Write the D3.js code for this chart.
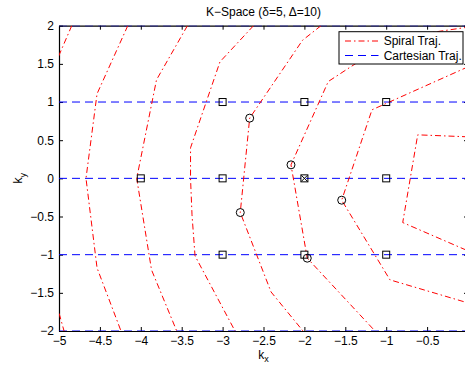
<!DOCTYPE html>
<html>
<head>
<meta charset="utf-8">
<script src="https://cdn.jsdelivr.net/npm/d3@7"></script>
<style>
  html, body { margin: 0; padding: 0; background: #fff; }
  svg { display: block; }
  text { font-family: "Liberation Sans", Arial, Helvetica, sans-serif; }
</style>
</head>
<body>
<svg id="chart" width="465" height="365"></svg>
<script>
// ---- data ----
const xTicks = [-5, -4.5, -4, -3.5, -3, -2.5, -2, -1.5, -1, -0.5];
const yTicks = [-2, -1.5, -1, -0.5, 0, 0.5, 1, 1.5, 2];
const xDomain = [-5, 0];
const yDomain = [-2, 2];

// spiral trajectory arcs (vertices)
const arcA1 = [[-4.844, 2.0], [-5.045, 1.5]];
const arcA2 = [[-5.043, -1.6], [-4.938, -2.0]];
const arcB = [[-4.159, 2.0], [-4.535, 1.107], [-4.670, 0], [-4.535, -1.173], [-4.242, -2.0]];
const arcC = [[-3.430, 2.0], [-3.808, 1.291], [-4.050, 0], [-3.869, -1.199], [-3.561, -2.0]];
const arcD = [[-2.622, 2.0], [-3.032, 1.527], [-3.392, 0.40], [-3.392, 0], [-3.374, -0.478], [-3.337, -1.016], [-2.848, -2.0]];
const arcE = [[-1.797, 2.0], [-2.023, 1.809], [-2.669, 0.789], [-2.784, -0.448], [-2.408, -1.488], [-2.017, -2.0]];
const arcF = [[0.024, 1.985], [-0.892, 1.841], [-1.708, 1.269], [-2.164, 0.177], [-1.965, -1.046], [-1.137, -2.0]];
const arcG = [[0.0, 1.461], [-1.174, 0.898], [-1.544, -0.286], [-0.954, -1.330], [0.0, -1.632]];
const arcH = [[0.0, 0.544], [-0.615, 0.570], [-0.798, -0.579], [0.0, -0.950]];
const spiralArcs = [arcA1, arcA2, arcB, arcC, arcD, arcE, arcF, arcG, arcH];

// cartesian trajectory rows
const cartesianRows = [-2, -1, 0, 1, 2];

// sample markers
const circlePoints = [[-2.669, 0.789], [-2.784, -0.448], [-2.164, 0.177], [-1.544, -0.286], [-1.965, -1.046]];
const squarePoints = [[-4, 0], [-3, 1], [-3, 0], [-3, -1], [-2, 1], [-2, 0], [-2, -1], [-1, 1], [-1, 0], [-1, -1]];
const crossPoints = [[-2, 0]];

const legendLabels = ["Spiral Traj.", "Cartesian Traj."];
const titleText = "K\u2212Space (\u03B4=5, \u0394=10)";

// ---- drawing ----
const svg = d3.select("#chart");
const L = 59, R = 468, T = 25.7, B = 331;
const x = d3.scaleLinear().domain(xDomain).range([L, R]);
const y = d3.scaleLinear().domain(yDomain).range([B, T]);
const fmt = d => (d < 0 ? "\u2212" : "") + Math.abs(d);

svg.append("defs").append("clipPath").attr("id", "clip")
  .append("rect").attr("x", L).attr("y", T).attr("width", R - L).attr("height", B - T);

// axes (box with inward ticks)
const axB = svg.append("g").attr("transform", `translate(0,${B})`)
  .call(d3.axisBottom(x).tickValues(xTicks).tickSizeInner(-4).tickSizeOuter(0).tickPadding(5).tickFormat(fmt));
const axT = svg.append("g").attr("transform", `translate(0,${T})`)
  .call(d3.axisTop(x).tickValues(xTicks).tickSizeInner(-4).tickSizeOuter(0).tickFormat(""));
const axL = svg.append("g").attr("transform", `translate(${L},0)`)
  .call(d3.axisLeft(y).tickValues(yTicks).tickSizeInner(-4).tickSizeOuter(0).tickPadding(5).tickFormat(fmt));
const axR = svg.append("g").attr("transform", `translate(${R},0)`)
  .call(d3.axisRight(y).tickValues(yTicks).tickSizeInner(-4).tickSizeOuter(0).tickFormat(""));
[axB, axT, axL, axR].forEach(g => {
  g.select(".domain").attr("stroke", "#000").attr("stroke-width", 1.2);
  g.selectAll(".tick line").attr("stroke", "#000").attr("stroke-width", 1);
  g.selectAll("text").attr("font-size", 12).attr("fill", "#000")
    .attr("font-family", "'Liberation Sans', Arial, sans-serif");
});

const plot = svg.append("g").attr("clip-path", "url(#clip)");
const line = d3.line().x(d => x(d[0])).y(d => y(d[1]));

// cartesian rows
plot.selectAll(".cart").data(cartesianRows).enter().append("line")
  .attr("x1", x(xDomain[0])).attr("x2", x(xDomain[1]))
  .attr("y1", d => y(d)).attr("y2", d => y(d))
  .attr("stroke", "#0000ff").attr("stroke-width", 1)
  .attr("stroke-dasharray", "8,5");

// spiral arcs
plot.selectAll(".arc").data(spiralArcs).enter().append("path")
  .attr("d", line).attr("fill", "none")
  .attr("stroke", "#ff0000").attr("stroke-width", 1)
  .attr("stroke-dasharray", "6,3,1.5,3");

// markers
const mk = svg.append("g");
mk.selectAll(".sq").data(squarePoints).enter().append("rect")
  .attr("x", d => x(d[0]) - 3.5).attr("y", d => y(d[1]) - 3.5)
  .attr("width", 7).attr("height", 7)
  .attr("fill", "none").attr("stroke", "#000").attr("stroke-width", 1);
crossPoints.forEach(d => {
  const cx = x(d[0]), cy = y(d[1]);
  mk.append("path").attr("d", `M${cx - 3},${cy - 3}L${cx + 3},${cy + 3}M${cx - 3},${cy + 3}L${cx + 3},${cy - 3}`)
    .attr("stroke", "#000").attr("stroke-width", 1);
});
mk.selectAll(".ci").data(circlePoints).enter().append("circle")
  .attr("cx", d => x(d[0])).attr("cy", d => y(d[1])).attr("r", 4)
  .attr("fill", "none").attr("stroke", "#000").attr("stroke-width", 1);

// title
svg.append("text").attr("x", (L + R) / 2).attr("y", 16).attr("text-anchor", "middle")
  .attr("font-size", 12).text(titleText);

// axis labels
const xl = svg.append("text").attr("x", 263.5).attr("y", 358.5).attr("text-anchor", "middle").attr("font-size", 12);
xl.append("tspan").text("k");
xl.append("tspan").attr("font-size", 9).attr("dy", 3.5).text("x");
const yl = svg.append("text").attr("transform", `translate(22,${y(0)}) rotate(-90)`).attr("text-anchor", "middle").attr("font-size", 12);
yl.append("tspan").text("k");
yl.append("tspan").attr("font-size", 9).attr("dy", 4).text("y");

// legend
const lg = svg.append("g");
lg.append("rect").attr("x", 339).attr("y", 31.7).attr("width", 124).attr("height", 32.3)
  .attr("fill", "#fff").attr("stroke", "#000").attr("stroke-width", 1);
const lgStyles = [{ c: "#ff0000", dash: "6,3,1.5,3" }, { c: "#0000ff", dash: "8,5" }];
legendLabels.forEach((t, i) => {
  const yy = 41 + i * 14.5;
  lg.append("line").attr("x1", 345).attr("x2", 378.5).attr("y1", yy).attr("y2", yy)
    .attr("stroke", lgStyles[i].c).attr("stroke-width", 1).attr("stroke-dasharray", lgStyles[i].dash);
  lg.append("text").attr("x", 383.7).attr("y", yy + 4.3).attr("font-size", 12).text(t);
});
</script>
</body>
</html>
